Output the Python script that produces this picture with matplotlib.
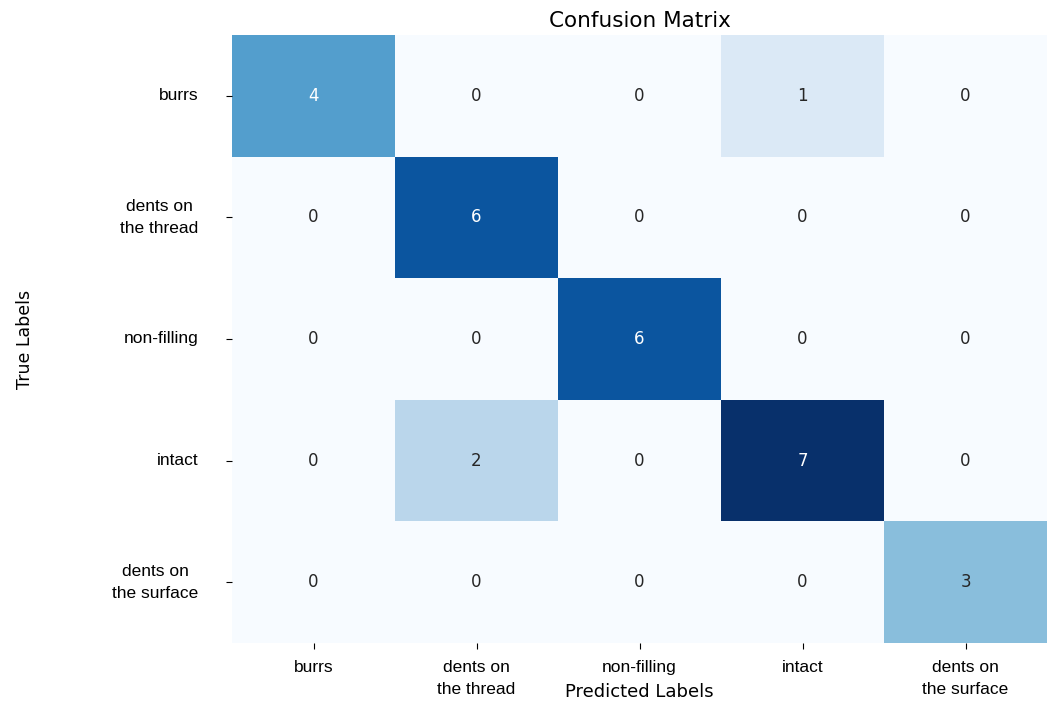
import matplotlib
matplotlib.use("Agg")
import matplotlib.pyplot as plt
import seaborn as sns
import numpy as np

classes = ["burrs", "dents on\nthe thread", "non-filling", "intact", "dents on\nthe surface"]

# rows = true class, columns = predicted class
cm = np.array([
    [4, 0, 0, 1, 0],
    [0, 6, 0, 0, 0],
    [0, 0, 6, 0, 0],
    [0, 2, 0, 7, 0],
    [0, 0, 0, 0, 3],
])

fig = plt.figure(figsize=(10.52, 7.03), dpi=100)
ax = fig.add_axes([232 / 1052, 1 - 643 / 703, (1047 - 232) / 1052, (643 - 35) / 703])
sns.heatmap(cm, annot=True, fmt="d", cmap="Blues", cbar=False, ax=ax,
            annot_kws={"fontsize": 12})

ax.set_xticklabels(classes, rotation=0, fontsize=12.5, family="Liberation Sans",
                   multialignment="center", linespacing=1.6)
ax.set_yticklabels(classes, rotation=0, fontsize=12.5, family="Liberation Sans",
                   multialignment="center", linespacing=1.6)
ax.tick_params(axis="x", length=4, pad=8)
ax.tick_params(axis="y", length=4, pad=20)

ax.set_title("Confusion Matrix", fontsize=15.5, pad=6)
ax.set_xlabel("Predicted Labels", fontsize=13)
ax.set_ylabel("True Labels", fontsize=12.5)
ax.xaxis.set_label_coords(0.5, -0.066)
ax.yaxis.set_label_coords(-0.243, 0.5)

fig.savefig("out.png", dpi=100)
